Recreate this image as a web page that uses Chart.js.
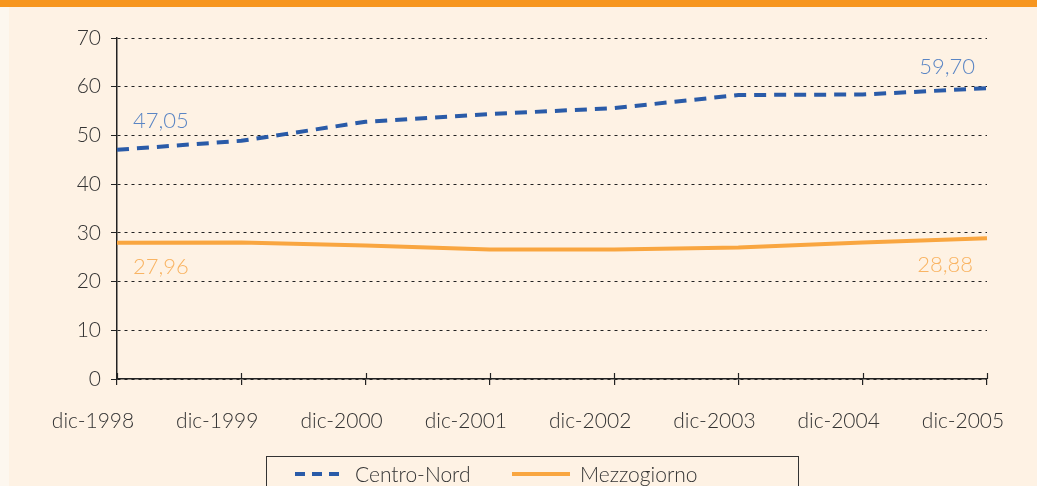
<!DOCTYPE html>
<html>
<head>
<meta charset="utf-8">
<script src="https://cdn.jsdelivr.net/npm/chart.js@4/dist/chart.umd.min.js"></script>
<style>
  html, body { margin: 0; padding: 0; background: #fef2e4; }
  #wrap { width: 1037px; height: 486px; position: relative; }
</style>
</head>
<body>
<div id="wrap"><canvas id="chart" width="1037" height="486"></canvas></div>
<script>
// Data
const labels = ['dic-1998', 'dic-1999', 'dic-2000', 'dic-2001', 'dic-2002', 'dic-2003', 'dic-2004', 'dic-2005'];
const centroNord = [47.05, 48.9, 52.8, 54.4, 55.6, 58.3, 58.4, 59.70];
const mezzogiorno = [27.96, 28.0, 27.4, 26.6, 26.6, 27.0, 28.0, 28.88];
const yTicks = [0, 10, 20, 30, 40, 50, 60, 70];

const FONT = 'Lato, "DejaVu Sans", sans-serif';
const BLUE = '#2a5ba8';
const ORANGE = '#f9a640';

// background, top band, end labels and legend box
const decor = {
    id: 'decor',
    beforeDraw(chart) {
        const ctx = chart.ctx;
        ctx.save();
        ctx.fillStyle = '#fef2e4';
        ctx.fillRect(0, 0, chart.width, chart.height);
        ctx.fillStyle = '#fdf7ef';
        ctx.fillRect(0, 0, 9, chart.height);
        ctx.fillStyle = '#f7961f';
        ctx.fillRect(0, 0, chart.width, 7);
        ctx.restore();
    },
    afterDraw(chart) {
        const ctx = chart.ctx;
        const x = chart.scales.x, y = chart.scales.y;
        ctx.save();
        // ticks crossing the x axis
        ctx.strokeStyle = '#222';
        ctx.lineWidth = 1.2;
        labels.forEach((l, i) => {
            const px = Math.round(x.getPixelForValue(i)) + 0.5;
            ctx.beginPath();
            ctx.moveTo(px, y.bottom - 6);
            ctx.lineTo(px, y.bottom);
            ctx.stroke();
        });
        // value labels at ends
        ctx.font = '300 22px ' + FONT;
        ctx.textBaseline = 'middle';
        const last = labels.length - 1;
        ctx.fillStyle = '#5a85c4';
        ctx.textAlign = 'left';
        ctx.fillText(centroNord[0].toFixed(2).replace('.', ','), x.getPixelForValue(0) + 16, y.getPixelForValue(centroNord[0]) - 29);
        ctx.textAlign = 'right';
        ctx.fillText(centroNord[last].toFixed(2).replace('.', ','), x.getPixelForValue(last) - 12, y.getPixelForValue(centroNord[last]) - 21);
        ctx.fillStyle = '#f9b463';
        ctx.textAlign = 'left';
        ctx.fillText(mezzogiorno[0].toFixed(2).replace('.', ','), x.getPixelForValue(0) + 16, y.getPixelForValue(mezzogiorno[0]) + 24);
        ctx.textAlign = 'right';
        ctx.fillText(mezzogiorno[last].toFixed(2).replace('.', ','), x.getPixelForValue(last) - 14, y.getPixelForValue(mezzogiorno[last]) + 27);
        // legend box
        ctx.strokeStyle = '#333';
        ctx.lineWidth = 1;
        ctx.strokeRect(266.5, 456.5, 532, 40);
        ctx.lineWidth = 4;
        ctx.strokeStyle = BLUE;
        ctx.setLineDash([10, 7]);
        ctx.beginPath();
        ctx.moveTo(295, 474); ctx.lineTo(345, 474);
        ctx.stroke();
        ctx.setLineDash([]);
        ctx.strokeStyle = ORANGE;
        ctx.beginPath();
        ctx.moveTo(512, 474); ctx.lineTo(570, 474);
        ctx.stroke();
        ctx.font = '300 21px ' + FONT;
        ctx.fillStyle = '#333';
        ctx.textAlign = 'left';
        ctx.fillText('Centro-Nord', 355, 475);
        ctx.fillText('Mezzogiorno', 580, 475);
        ctx.restore();
    }
};

new Chart(document.getElementById('chart'), {
    type: 'line',
    data: {
        labels: labels,
        datasets: [{
            label: 'Centro-Nord',
            data: centroNord,
            borderColor: BLUE,
            borderWidth: 4,
            borderDash: [12, 8],
            pointRadius: 0,
            tension: 0
        }, {
            label: 'Mezzogiorno',
            data: mezzogiorno,
            borderColor: ORANGE,
            borderWidth: 4,
            pointRadius: 0,
            tension: 0
        }]
    },
    options: {
        responsive: false,
        animation: false,
        layout: { padding: { top: 38, right: 50, left: 0, bottom: 0 } },
        plugins: {
            legend: { display: false },
            tooltip: { enabled: false }
        },
        scales: {
            x: {
                offset: false,
                afterFit: s => { s.height = 107; s.paddingLeft = 0; s.paddingRight = 0; },
                grid: { drawOnChartArea: false, drawTicks: true, tickLength: 6, color: '#222', lineWidth: 1.2 },
                border: { color: '#222', width: 1.5 },
                ticks: { color: '#333', font: { family: FONT, size: 21, weight: '300' }, padding: 24, maxRotation: 0, labelOffset: -24 }
            },
            y: {
                min: 0,
                max: 70,
                afterFit: s => { s.width = 117; s.paddingTop = 0; s.paddingBottom = 0; },
                afterBuildTicks: s => { s.ticks = yTicks.map(v => ({ value: v })); },
                grid: { color: '#222', lineWidth: 1, tickLength: 6, tickBorderDash: [], tickColor: '#222' },
                border: { color: '#222', width: 1.5, dash: [3, 4] },
                ticks: { color: '#333', font: { family: FONT, size: 21, weight: '300' }, padding: 10 }
            }
        }
    },
    plugins: [decor]
});
</script>
</body>
</html>
